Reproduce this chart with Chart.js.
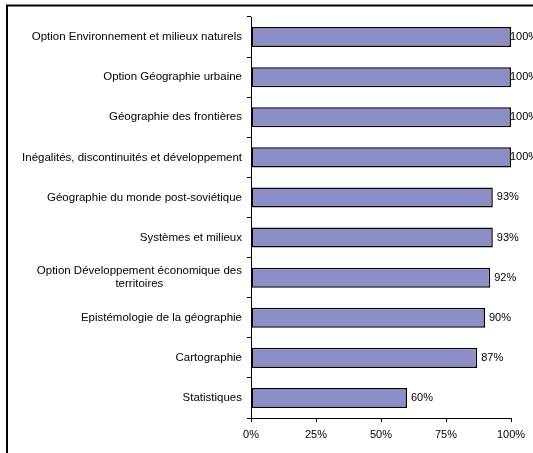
<!DOCTYPE html>
<html>
<head>
<meta charset="utf-8">
<script src="https://cdn.jsdelivr.net/npm/chart.js@4/dist/chart.umd.min.js"></script>
<style>
  html, body { margin: 0; padding: 0; background: #fff; }
  canvas { display: block; }
</style>
</head>
<body>
<canvas id="chart1" width="533" height="453"></canvas>
<script>
var categories = [
  'Option Environnement et milieux naturels',
  'Option Géographie urbaine',
  'Géographie des frontières',
  'Inégalités, discontinuités et développement',
  'Géographie du monde post-soviétique',
  'Systèmes et milieux',
  ['Option Développement économique des', 'territoires'],
  'Epistémologie de la géographie',
  'Cartographie',
  'Statistiques'
];
var values = [100, 100, 100, 100, 93, 93, 92, 90, 87, 60];
var xTicks = [0, 25, 50, 75, 100];

var FONT = '11px "Liberation Sans", Arial, sans-serif';
var CAT_FONT = '11.5px "Liberation Sans", Arial, sans-serif';

// frame around the chart (only left and top edges are visible)
var framePlugin = {
  id: 'frame',
  beforeDraw: function(chart) {
    var c = chart.ctx;
    c.save();
    c.strokeStyle = '#000';
    c.lineWidth = 2;
    c.beginPath();
    c.moveTo(7, 460);
    c.lineTo(7, 5.5);
    c.lineTo(540, 5.5);
    c.stroke();
    c.restore();
  }
};

// category labels, multi-line ones centred on their widest line
var catLabels = {
  id: 'catLabels',
  afterDraw: function(chart) {
    var c = chart.ctx;
    var y = chart.scales.y;
    var right = y.right - 9;
    c.save();
    c.font = CAT_FONT;
    c.fillStyle = '#000';
    c.textAlign = 'center';
    c.textBaseline = 'middle';
    categories.forEach(function(lab, i) {
      var lines = Array.isArray(lab) ? lab : [lab];
      var w = 0;
      lines.forEach(function(l) { w = Math.max(w, c.measureText(l).width); });
      var cx = right - w / 2;
      var cy = y.getPixelForValue(i);
      lines.forEach(function(l, k) {
        c.fillText(l, cx, cy + (k - (lines.length - 1) / 2) * 13);
      });
    });
    c.restore();
  }
};

// value labels after each bar
var valueLabels = {
  id: 'valueLabels',
  afterDatasetsDraw: function(chart) {
    var c = chart.ctx;
    var meta = chart.getDatasetMeta(0);
    c.save();
    c.font = FONT;
    c.fillStyle = '#000';
    c.textAlign = 'left';
    c.textBaseline = 'middle';
    meta.data.forEach(function(bar, i) {
      var txt = values[i] + '%';
      var x = Math.min(bar.x + 4, 510);
      c.fillText(txt, x, bar.y);
    });
    c.restore();
  }
};

var ctx = document.getElementById('chart1').getContext('2d');
var myChart = new Chart(ctx, {
  type: 'bar',
  data: {
    labels: categories,
    datasets: [{
      data: values,
      backgroundColor: '#8c8fc6',
      borderColor: '#000',
      borderWidth: 1.5,
      borderSkipped: false,
      barPercentage: 0.5,
      categoryPercentage: 1
    }]
  },
  options: {
    indexAxis: 'y',
    responsive: false,
    animation: false,
    layout: { padding: { left: 0, top: 17, right: 22, bottom: 0 } },
    scales: {
      x: {
        min: 0,
        max: 100,
        afterBuildTicks: function(scale) {
          scale.ticks = xTicks.map(function(v) { return { value: v }; });
        },
        afterFit: function(scale) { scale.height = 35; },
        grid: { drawOnChartArea: false, tickLength: 4, color: '#000' },
        border: { color: '#000', width: 1 },
        ticks: {
          padding: 6,
          color: '#000',
          font: { family: '"Liberation Sans", Arial, sans-serif', size: 11 },
          callback: function(v) { return v + '%'; }
        }
      },
      y: {
        afterFit: function(scale) { scale.width = 251; },
        grid: { drawOnChartArea: false, tickLength: 4, color: '#000', offset: true },
        border: { color: '#000', width: 1 },
        ticks: { display: false }
      }
    },
    plugins: {
      legend: { display: false },
      tooltip: { enabled: false }
    }
  },
  plugins: [framePlugin, catLabels, valueLabels]
});
</script>
</body>
</html>
